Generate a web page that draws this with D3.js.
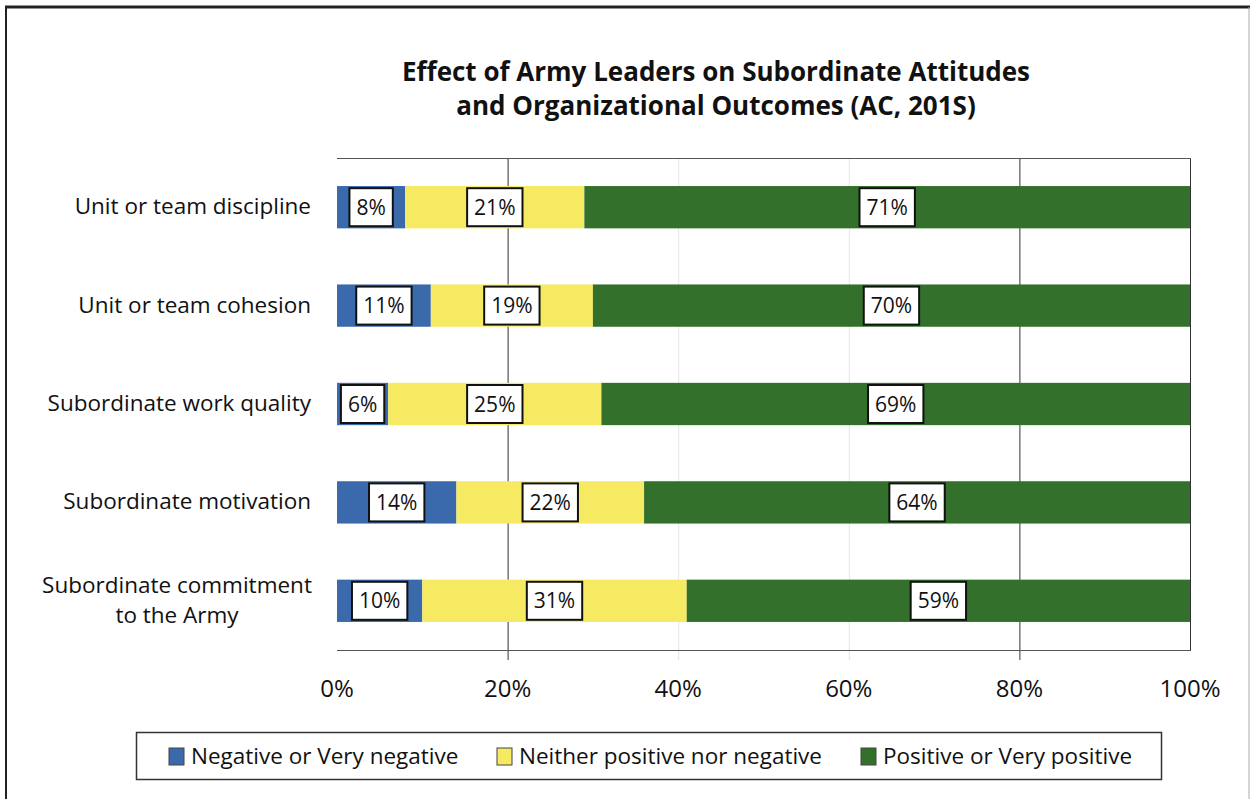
<!DOCTYPE html>
<html>
<head>
<meta charset="utf-8">
<title>Effect of Army Leaders</title>
<script src="https://d3js.org/d3.v7.min.js"></script>
<style>
  body { margin: 0; background: #fff; }
  text { font-family: "Open Sans", Lato, sans-serif; fill: #111; }
</style>
</head>
<body>
<svg id="chart"></svg>
<script>
// data
var categories = ["Unit or team discipline", "Unit or team cohesion", "Subordinate work quality",
                  "Subordinate motivation", "Subordinate commitment|to the Army"];
var negative = [8, 11, 6, 14, 10];
var neither  = [21, 19, 25, 22, 31];
var positive = [71, 70, 69, 64, 59];
var seriesNames = ["Negative or Very negative", "Neither positive nor negative", "Positive or Very positive"];
var tickValues = [0, 20, 40, 60, 80, 100];

var W = 1250, H = 799;
var colors = ["#3a6aac", "#f5ea62", "#33702b"];

var svg = d3.select("#chart").attr("width", W).attr("height", H);

// outer frame
svg.append("line").attr("x1", 5).attr("x2", 1250).attr("y1", 7).attr("y2", 7).attr("stroke", "#222").attr("stroke-width", 3);
svg.append("line").attr("x1", 6).attr("x2", 6).attr("y1", 7).attr("y2", H).attr("stroke", "#222").attr("stroke-width", 2);
svg.append("line").attr("x1", 1249).attr("x2", 1249).attr("y1", 7).attr("y2", H).attr("stroke", "#aaa").attr("stroke-width", 1);

// title
var title = svg.append("text").attr("text-anchor", "middle").style("font-size", "26px").style("font-weight", "bold");
title.append("tspan").attr("x", 716).attr("y", 81).text("Effect of Army Leaders on Subordinate Attitudes");
title.append("tspan").attr("x", 716).attr("y", 115).text("and Organizational Outcomes (AC, 201S)");

var x = d3.scaleLinear().domain([0, 100]).range([337, 1190]);
var y = d3.scaleBand().domain(d3.range(categories.length)).range([158, 650]).paddingInner(0.57).paddingOuter(0.285);

// gridlines
var grid = svg.append("g");
grid.selectAll("line").data(tickValues.filter(function(d){ return d > 0; })).enter().append("line")
  .attr("x1", function(d){ return x(d) + 0.5; }).attr("x2", function(d){ return x(d) + 0.5; })
  .attr("y1", 158).attr("y2", function(d){ return d == 100 ? 651 : 660; })
  .attr("stroke", function(d){ return (d == 40 || d == 60) ? "#e4e4e4" : "#333"; })
  .attr("stroke-width", 1);
svg.append("line").attr("x1", 337).attr("x2", 1191).attr("y1", 158.5).attr("y2", 158.5).attr("stroke", "#555");
svg.append("line").attr("x1", 337).attr("x2", 1191).attr("y1", 650.5).attr("y2", 650.5).attr("stroke", "#555");

// stacked data
var rows = categories.map(function(c, i){
  var vals = [negative[i], neither[i], positive[i]];
  var start = 0;
  return vals.map(function(v, k){
    var seg = {row: i, k: k, x0: start, x1: start + v, v: v};
    start += v;
    return seg;
  });
});
var segs = [].concat.apply([], rows);

svg.append("g").selectAll("rect").data(segs).enter().append("rect")
  .attr("x", function(d){ return x(d.x0); })
  .attr("width", function(d){ return x(d.x1) - x(d.x0); })
  .attr("y", function(d){ return y(d.row); })
  .attr("height", y.bandwidth())
  .attr("fill", function(d){ return colors[d.k]; });

// value labels in boxes
var lab = svg.append("g").selectAll("g").data(segs).enter().append("g")
  .attr("transform", function(d){ return "translate(" + ((x(d.x0) + x(d.x1)) / 2) + "," + (y(d.row) + y.bandwidth() / 2) + ")"; });
lab.append("text").attr("text-anchor", "middle").attr("dy", "0.36em").style("font-size", "21px")
  .text(function(d){ return d.v + "%"; });
lab.each(function(){
  var g = d3.select(this);
  var bb = g.select("text").node().getBBox();
  g.insert("rect", "text")
    .attr("x", -bb.width / 2 - 7).attr("width", bb.width + 14)
    .attr("y", -19).attr("height", 38)
    .attr("fill", "#fff").attr("stroke", "#111").attr("stroke-width", 2);
});

// category labels
svg.append("g").selectAll("text").data(categories).enter().append("text")
  .attr("text-anchor", "end").style("font-size", "22.5px")
  .each(function(d, i){
    var parts = d.split("|");
    var cy = y(i) + y.bandwidth() / 2;
    var t = d3.select(this);
    parts.forEach(function(p, j){
      t.append("tspan").attr("x", 311)
        .attr("y", cy + 7 + (j - (parts.length - 1) / 2) * 30)
        .text(p);
    });
  })
  .filter(function(d){ return d.indexOf("|") >= 0; })
  .attr("text-anchor", "middle")
  .selectAll("tspan").attr("x", 177);

// x axis tick labels
svg.append("g").selectAll("text").data(tickValues).enter().append("text")
  .attr("x", function(d){ return x(d); }).attr("y", 697)
  .attr("text-anchor", "middle").style("font-size", "24px")
  .text(function(d){ return d + "%"; });

// legend
svg.append("rect").attr("x", 136.5).attr("y", 732.5).attr("width", 1025).attr("height", 47)
  .attr("fill", "#fff").attr("stroke", "#333").attr("stroke-width", 1.5);
var legX = [169, 497, 861];
var leg = svg.append("g").selectAll("g").data(seriesNames).enter().append("g")
  .attr("transform", function(d, i){ return "translate(" + legX[i] + ",756)"; });
leg.append("rect").attr("x", 0).attr("y", -8).attr("width", 15).attr("height", 17)
  .attr("fill", function(d, i){ return colors[i]; }).attr("stroke", "#444").attr("stroke-width", 1);
leg.append("text").attr("x", 22).attr("dy", "0.36em").style("font-size", "22.5px").text(function(d){ return d; });
</script>
</body>
</html>
